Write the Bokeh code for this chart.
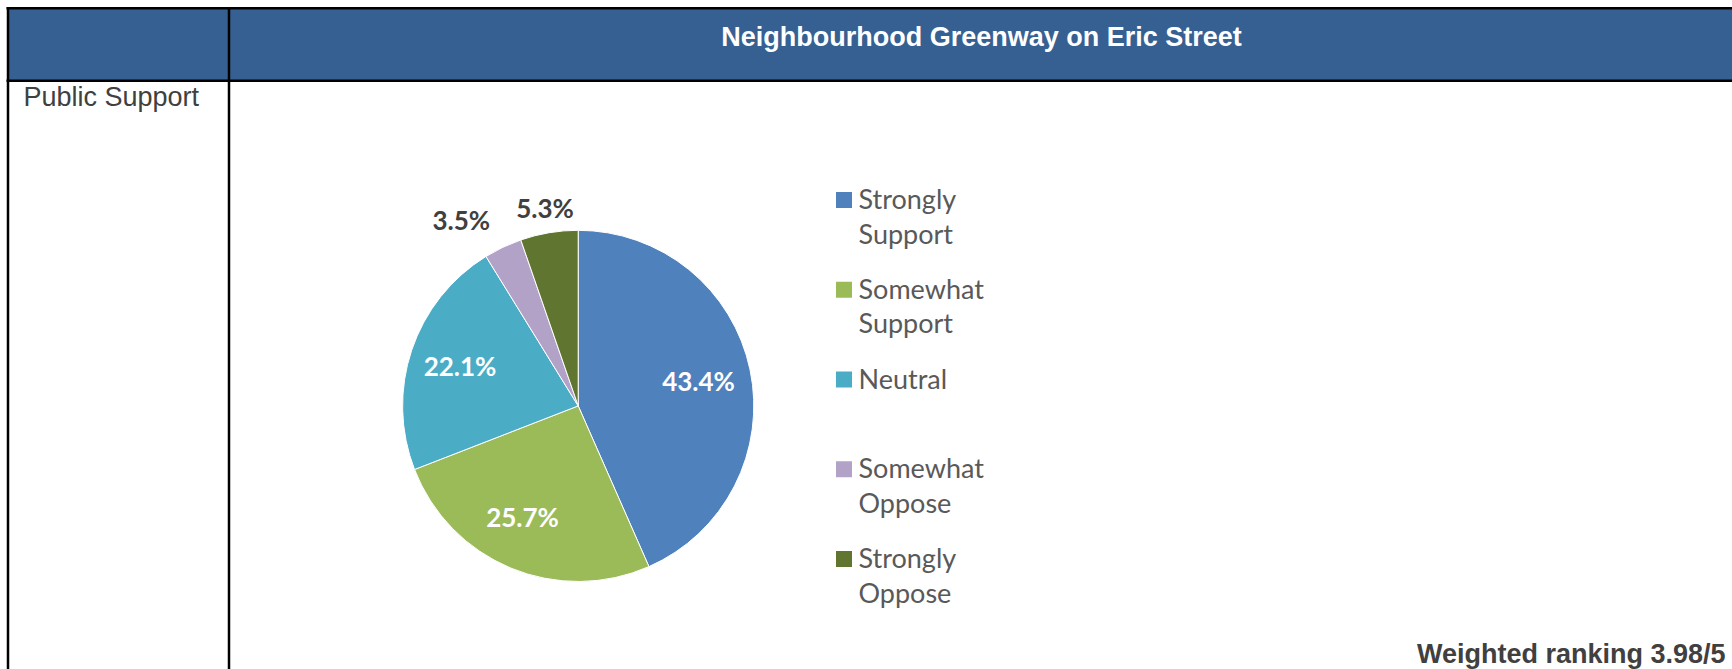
import math
from bokeh.plotting import figure
from bokeh.models import Range1d
from bokeh.embed import file_html
from bokeh.resources import INLINE
from bokeh.core.properties import value

W, H = 1732, 669

categories = ["Strongly Support", "Somewhat Support", "Neutral", "Somewhat Oppose", "Strongly Oppose"]
legend_lines = [["Strongly", "Support"], ["Somewhat", "Support"], ["Neutral"], ["Somewhat", "Oppose"], ["Strongly", "Oppose"]]
percentages = [43.4, 25.7, 22.1, 3.5, 5.3]
pct_labels = ["43.4%", "25.7%", "22.1%", "3.5%", "5.3%"]
colors = ["#4F81BD", "#9BBB59", "#4BACC6", "#B3A2C7", "#607530"]
title_text = "Neighbourhood Greenway on Eric Street"
row_label = "Public Support"
ranking_note = "Weighted ranking 3.98/5"

# styling / layout
label_radius = [0.70, 0.71, 0.71, 1.17, 1.14]
label_turn = [0.0, -0.07, 0.0, 0.0, 0.0]
label_align = ["center", "center", "center", "right", "center"]
label_color = ["white", "white", "white", "#404040", "#404040"]


def Y(v):
    return H - v


p = figure(width=W, height=H, x_range=Range1d(0, W), y_range=Range1d(0, H),
           output_backend="svg", toolbar_location=None, min_border=0)
p.axis.visible = False
p.grid.visible = False
p.outline_line_color = None
p.background_fill_color = "white"
p.border_fill_color = "white"

# header band
p.quad(left=[8], right=[W], top=[Y(8)], bottom=[Y(80)], fill_color="#366092", line_color=None)
# table lines
p.segment(x0=[6, 6, 7.5, 228.5], y0=[Y(7.8), Y(80.3), Y(6.5), Y(6.5)],
          x1=[W, W, 7.5, 228.5], y1=[Y(7.8), Y(80.3), Y(H), Y(H)],
          line_color="black", line_width=2.5)

p.text(x=[981], y=[Y(36)], text=[title_text], text_font=value("Liberation Sans"),
       text_font_style="bold", text_font_size="27px", text_color="white",
       text_align="center", text_baseline="middle")
p.text(x=[23], y=[Y(96)], text=[row_label], text_font=value("Liberation Sans"),
       text_font_size="27px", text_color="#404040", text_align="left", text_baseline="middle")
p.text(x=[1725], y=[Y(653)], text=[ranking_note], text_font=value("Liberation Sans"),
       text_font_style="bold", text_font_size="27px", text_color="#404040",
       text_align="right", text_baseline="middle")

# pie
cx, cy, R = 577.7, Y(405.4), 175.6
total = sum(percentages)
starts, ends, mids = [], [], []
acc = 0.0
for v in percentages:
    a0 = math.pi / 2 - 2 * math.pi * acc / total
    acc += v
    a1 = math.pi / 2 - 2 * math.pi * acc / total
    starts.append(a0)
    ends.append(a1)
    mids.append((a0 + a1) / 2)

p.wedge(x=[cx] * len(percentages), y=[cy] * len(percentages), radius=R, radius_units="screen",
        start_angle=starts, end_angle=ends, direction="clock",
        fill_color=colors, line_color="white", line_width=1)

for i, lab in enumerate(pct_labels):
    r = label_radius[i] * R
    a = mids[i] + label_turn[i]
    lx = cx + r * math.cos(a)
    ly = cy + r * math.sin(a)
    p.text(x=[lx], y=[ly], text=[lab], text_font=value("Lato"), text_font_style="bold",
           text_font_size="26px", text_color=label_color[i], text_align=label_align[i],
           text_baseline="middle")

# legend
lx0, ly0, step, line_gap = 843.5, 198.0, 89.75, 34.5
for i, lines in enumerate(legend_lines):
    yy = ly0 + i * step
    p.rect(x=[lx0], y=[Y(yy + 1.5)], width=16, height=16, width_units="screen", height_units="screen",
           fill_color=colors[i], line_color=None)
    for j, t in enumerate(lines):
        p.text(x=[858], y=[Y(yy + j * line_gap)], text=[t], text_font=value("Lato"),
               text_font_size="27px", text_color="#595959", text_align="left", text_baseline="middle")

open("out.html", "w").write(file_html(p, INLINE))
